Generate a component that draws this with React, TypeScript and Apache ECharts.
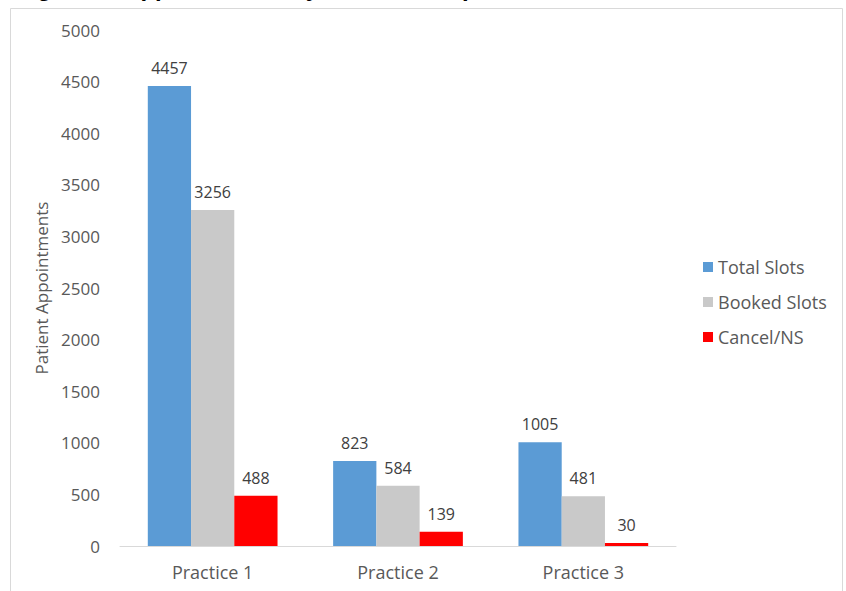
import React, { useEffect, useRef } from "react";
import * as echarts from "echarts";

const categories = ["Practice 1", "Practice 2", "Practice 3"];
const totalSlots = [4457, 823, 1005];
const bookedSlots = [3256, 584, 481];
const cancelNS = [488, 139, 30];
const seriesNames = ["Total Slots", "Booked Slots", "Cancel/NS"];
const yTicks = { min: 0, max: 5000, interval: 500 };
const titleText = "Figure 5: Appointments by Practice, September 2016";

export default function App() {
  const ref = useRef<HTMLDivElement>(null);
  useEffect(() => {
    document.body.style.margin = "0";
    const chart = echarts.init(ref.current!, undefined, { renderer: "svg" });
    const font = "Open Sans";
    const labelStyle = { show: true, position: "top" as const, distance: 10, fontFamily: font, fontSize: 16, color: "#404040" };
    chart.setOption({
      animation: false,
      backgroundColor: "#ffffff",
      graphic: [
        { type: "rect", shape: { x: 10.5, y: 8.5, width: 832, height: 620 }, style: { fill: "none", stroke: "#D9D9D9", lineWidth: 1 }, silent: true },
        { type: "text", x: 16, y: -25, style: { text: titleText, fontFamily: "Liberation Sans", fontWeight: "bold", fontSize: 24, fill: "#000000", verticalAlign: "top" } },
      ],
      grid: { left: 120, right: 170, top: 30, bottom: 45 },
      legend: {
        orient: "vertical",
        left: 698,
        top: 253,
        itemWidth: 10,
        itemHeight: 10,
        itemGap: 17,
        icon: "rect",
        textStyle: { fontFamily: font, fontSize: 18, color: "#595959" },
        data: seriesNames,
      },
      xAxis: {
        type: "category",
        data: categories,
        axisLine: { lineStyle: { color: "#D9D9D9", width: 1 } },
        axisTick: { show: false },
        axisLabel: { fontFamily: font, fontSize: 18, color: "#595959", margin: 17 },
      },
      yAxis: {
        type: "value",
        min: yTicks.min,
        max: yTicks.max,
        interval: yTicks.interval,
        splitLine: { show: false },
        axisLine: { show: false },
        axisTick: { show: false },
        axisLabel: { fontFamily: font, fontSize: 17, color: "#595959", margin: 20, formatter: (v: number) => String(v) },
        name: "Patient Appointments",
        nameLocation: "middle",
        nameGap: 67,
        nameTextStyle: { fontFamily: font, fontSize: 17, color: "#595959" },
      },
      series: [
        { name: seriesNames[0], type: "bar", data: totalSlots, itemStyle: { color: "#5B9BD5" }, barGap: "0%", barCategoryGap: "30%", label: labelStyle },
        { name: seriesNames[1], type: "bar", data: bookedSlots, itemStyle: { color: "#C9C9C9" }, barGap: "0%", barCategoryGap: "30%", label: labelStyle },
        { name: seriesNames[2], type: "bar", data: cancelNS, itemStyle: { color: "#FF0000" }, barGap: "0%", barCategoryGap: "30%", label: labelStyle },
      ],
    });
    return () => chart.dispose();
  }, []);
  return <div ref={ref} style={{ width: 846, height: 591 }} />;
}
